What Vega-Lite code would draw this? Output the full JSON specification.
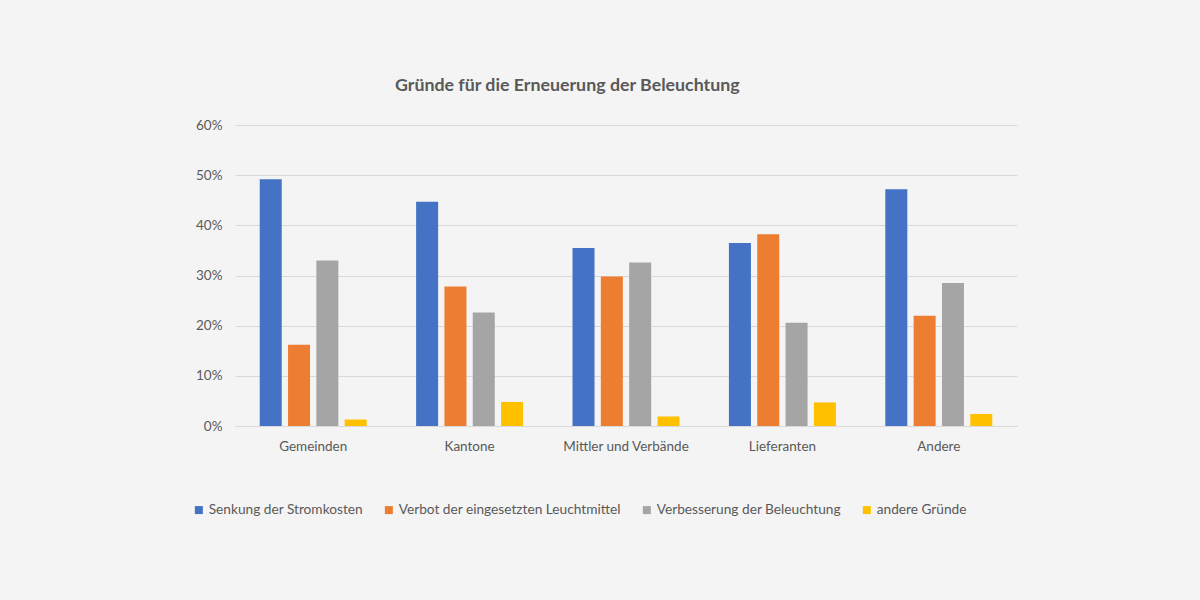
{
  "$schema": "https://vega.github.io/schema/vega-lite/v6.json",
  "autosize": {"type": "none"},
  "width": 782,
  "height": 301,
  "padding": {"left": 235, "top": 125, "right": 183, "bottom": 174},
  "background": "#f4f4f4",
  "config": {
    "view": {"stroke": null},
    "font": "Lato",
    "axis": {"labelFont": "Lato", "labelColor": "#595959", "labelFontSize": 13.5},
    "legend": {"labelFont": "Lato", "labelColor": "#595959", "labelFontSize": 13.7}
  },
  "title": {
    "text": "Gründe für die Erneuerung der Beleuchtung",
    "anchor": "start",
    "frame": "group",
    "dx": 160,
    "offset": 23,
    "font": "Lato",
    "fontSize": 17.8,
    "fontWeight": "bold",
    "color": "#595959"
  },
  "data": {
    "values": [
      {"gruppe": "Gemeinden", "grund": "Senkung der Stromkosten", "wert": 0.492},
      {"gruppe": "Gemeinden", "grund": "Verbot der eingesetzten Leuchtmittel", "wert": 0.162},
      {"gruppe": "Gemeinden", "grund": "Verbesserung der Beleuchtung", "wert": 0.330},
      {"gruppe": "Gemeinden", "grund": "andere Gründe", "wert": 0.013},
      {"gruppe": "Kantone", "grund": "Senkung der Stromkosten", "wert": 0.447},
      {"gruppe": "Kantone", "grund": "Verbot der eingesetzten Leuchtmittel", "wert": 0.278},
      {"gruppe": "Kantone", "grund": "Verbesserung der Beleuchtung", "wert": 0.226},
      {"gruppe": "Kantone", "grund": "andere Gründe", "wert": 0.048},
      {"gruppe": "Mittler und Verbände", "grund": "Senkung der Stromkosten", "wert": 0.355},
      {"gruppe": "Mittler und Verbände", "grund": "Verbot der eingesetzten Leuchtmittel", "wert": 0.298},
      {"gruppe": "Mittler und Verbände", "grund": "Verbesserung der Beleuchtung", "wert": 0.326},
      {"gruppe": "Mittler und Verbände", "grund": "andere Gründe", "wert": 0.019},
      {"gruppe": "Lieferanten", "grund": "Senkung der Stromkosten", "wert": 0.365},
      {"gruppe": "Lieferanten", "grund": "Verbot der eingesetzten Leuchtmittel", "wert": 0.382},
      {"gruppe": "Lieferanten", "grund": "Verbesserung der Beleuchtung", "wert": 0.206},
      {"gruppe": "Lieferanten", "grund": "andere Gründe", "wert": 0.047},
      {"gruppe": "Andere", "grund": "Senkung der Stromkosten", "wert": 0.472},
      {"gruppe": "Andere", "grund": "Verbot der eingesetzten Leuchtmittel", "wert": 0.220},
      {"gruppe": "Andere", "grund": "Verbesserung der Beleuchtung", "wert": 0.285},
      {"gruppe": "Andere", "grund": "andere Gründe", "wert": 0.024}
    ]
  },
  "mark": {"type": "bar"},
  "encoding": {
    "x": {
      "field": "gruppe",
      "type": "nominal",
      "sort": ["Gemeinden", "Kantone", "Mittler und Verbände", "Lieferanten", "Andere"],
      "scale": {"paddingInner": 0.316, "paddingOuter": 0.158},
      "axis": {
        "title": null,
        "labelAngle": 0,
        "ticks": false,
        "domainColor": "#d9d9d9",
        "labelPadding": 13
      }
    },
    "xOffset": {
      "field": "grund",
      "type": "nominal",
      "sort": ["Senkung der Stromkosten", "Verbot der eingesetzten Leuchtmittel", "Verbesserung der Beleuchtung", "andere Gründe"],
      "scale": {"paddingInner": 0.223, "paddingOuter": 0}
    },
    "y": {
      "field": "wert",
      "type": "quantitative",
      "scale": {"domain": [0, 0.6]},
      "axis": {
        "title": null,
        "format": ".0%",
        "values": [0, 0.1, 0.2, 0.3, 0.4, 0.5, 0.6],
        "labelOverlap": false,
        "domain": false,
        "ticks": false,
        "gridColor": "#d9d9d9",
        "labelPadding": 13
      }
    },
    "color": {
      "field": "grund",
      "type": "nominal",
      "sort": ["Senkung der Stromkosten", "Verbot der eingesetzten Leuchtmittel", "Verbesserung der Beleuchtung", "andere Gründe"],
      "scale": {
        "domain": ["Senkung der Stromkosten", "Verbot der eingesetzten Leuchtmittel", "Verbesserung der Beleuchtung", "andere Gründe"],
        "range": ["#4472C4", "#ED7D31", "#A5A5A5", "#FFC000"]
      },
      "legend": {
        "title": null,
        "orient": "none",
        "direction": "horizontal",
        "legendX": -43,
        "legendY": 378,
        "symbolType": "square",
        "symbolSize": 64,
        "symbolStrokeWidth": 0,
        "labelOffset": 3,
        "labelLimit": 400,
        "columnPadding": 19
      }
    }
  }
}
